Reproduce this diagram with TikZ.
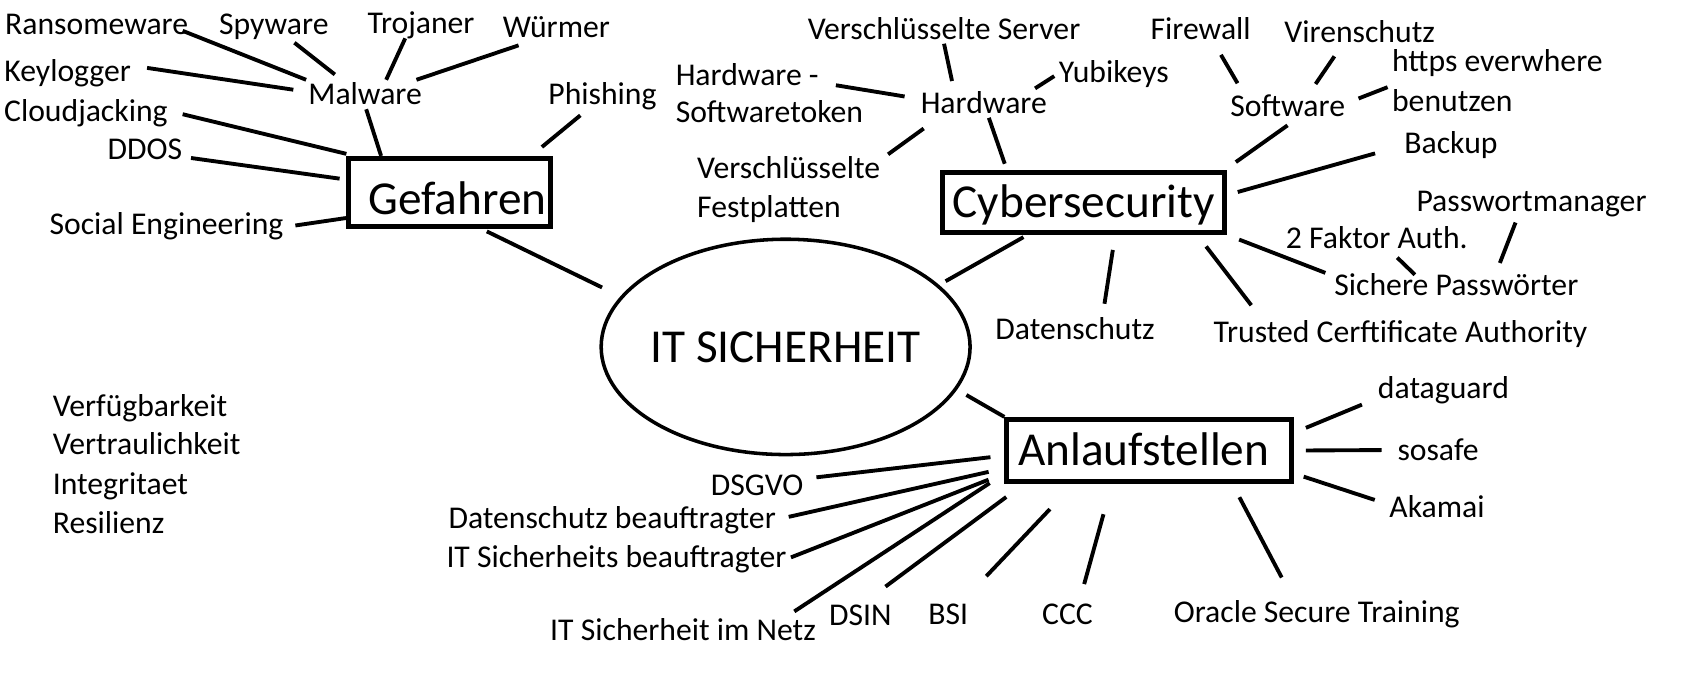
\documentclass[tikz,border=0pt]{standalone}
\usepackage{fontspec}
\setmainfont{Carlito}
\usetikzlibrary{shapes.geometric}
\begin{document}
\begin{tikzpicture}[x=1pt,y=-1pt,
  lbl/.style={font=\fontsize{29.5}{35}\selectfont, inner sep=4pt, text height=19pt, text depth=0pt},
  big/.style={draw, line width=4.7pt, font=\fontsize{44}{50}\selectfont, inner sep=0pt, text height=28.3pt, text depth=0pt},
  ln/.style={line width=3.6pt},
]
\useasboundingbox[fill=white] (0,0) rectangle (1568,631);

% central ellipse
\node[ellipse, draw, line width=3.3pt, minimum width=343.5pt, minimum height=200.5pt, inner sep=0pt,
  font=\fontsize{44}{50}\selectfont, text height=28.3pt, text depth=0pt] (it) at (731.5,323) {\makebox[0pt]{IT SICHERHEIT}};

% main boxes
\node[big, minimum width=188pt, minimum height=63pt, text height=41.3pt] (gef) at (418.5,179) {\hspace*{15pt}Gefahren};
\node[big, minimum width=263pt, minimum height=56pt] (cyber) at (1009,188.5) {Cybersecurity};
\node[big, minimum width=265pt, minimum height=58pt] (anl) at (1070,419.5) {Anlaufstellen\hspace*{10pt}};

% Gefahren cluster
\node[lbl] (ransom) at (90,23) {Ransomeware};
\node[lbl] (spy) at (255,23) {Spyware};
\node[lbl] (troj) at (392,22) {Trojaner};
\node[lbl] (wurm) at (518,25) {Würmer};
\node[lbl] (keylog) at (63,66) {Keylogger};
\node[lbl] (malware) at (340,88) {Malware};
\node[lbl] (cloud) at (80,104) {Cloudjacking};
\node[lbl] (ddos) at (135,139) {DDOS};
\node[lbl] (phish) at (561,88) {Phishing};
\node[lbl] (social) at (155,209) {Social Engineering};

% Hardware cluster
\node[lbl] (vserver) at (879,27) {Verschlüsselte Server};
\node[lbl, anchor=west] (hwsw) at (625,70) {Hardware -};
\node[lbl, anchor=west] (hwsw2) at (625,105) {Softwaretoken};
\node[lbl] (hardware) at (916,96) {Hardware};
\node[lbl] (yubi) at (1037,67) {Yubikeys};
\node[lbl, anchor=west] (vfest) at (645,157) {Verschlüsselte};
\node[lbl, anchor=west] (vfest2) at (645,193) {Festplatten};

% Software / Cybersecurity cluster
\node[lbl] (firewall) at (1118,27) {Firewall};
\node[lbl] (viren) at (1266,30) {Virenschutz};
\node[lbl, anchor=west] (https) at (1292,57) {https everwhere};
\node[lbl, anchor=west] (benutzen) at (1292,94) {benutzen};
\node[lbl] (software) at (1199,99) {Software};
\node[lbl] (backup) at (1351,133) {Backup};
\node[lbl] (pwman) at (1426,187) {Passwortmanager};
\node[lbl] (faktor) at (1282,222) {2 Faktor Auth.};
\node[lbl] (sicher) at (1356,266) {Sichere Passwörter};
\node[lbl] (trusted) at (1304,309) {Trusted Cerftificate Authority};
\node[lbl] (datensch) at (1001,307) {Datenschutz};

% Anlaufstellen cluster
\node[lbl] (dataguard) at (1344,362) {dataguard};
\node[lbl] (sosafe) at (1339,419) {sosafe};
\node[lbl] (akamai) at (1338,472) {Akamai};
\node[lbl] (dsgvo) at (705,452) {DSGVO};
\node[lbl] (dsbeauf) at (570,483) {Datenschutz beauftragter};
\node[lbl] (itsbeauf) at (574,519) {IT Sicherheits beauftragter};
\node[lbl] (itnetz) at (636,587) {IT Sicherheit im Netz};
\node[lbl] (dsin) at (801,573) {DSIN};
\node[lbl] (bsi) at (883,572) {BSI};
\node[lbl] (ccc) at (994,572) {CCC};
\node[lbl] (oracle) at (1226,570) {Oracle Secure Training};

% CIA list
\node[lbl, anchor=west] (verf) at (45,378) {Verfügbarkeit};
\node[lbl, anchor=west] (vertr) at (45,414) {Vertraulichkeit};
\node[lbl, anchor=west] (integ) at (45,451) {Integritaet};
\node[lbl, anchor=west] (resil) at (45,487) {Resilienz};

% connectors: Gefahren
\draw[ln, shorten <=-10pt] (ransom.-6) -- (malware.166);
\draw[ln, shorten <=5pt, shorten >=8pt] (spy.-42) -- (malware.148);
\draw[ln] (troj.-137) -- (malware.35.5);
\draw[ln, shorten <=11pt] (wurm.-151.5) -- (malware.16);
\draw[ln, shorten <=11pt, shorten >=10pt] (keylog.4) -- (malware.177.4);
\draw[ln] (malware.-86) -- (gef.152);
\draw[ln, shorten <=10pt, shorten >=8pt] (cloud.east) -- (gef.159.5);
\draw[ln, shorten <=4pt, shorten >=6pt] (ddos.-11.8) -- (gef.173.9);
\draw[ln, shorten <=7pt] (social.-1.9) -- (gef.-166.2);
\draw[ln, shorten <=9pt, shorten >=13pt] (phish.-135) -- (gef.24);
\draw[ln, shorten <=6pt, shorten >=19pt] (gef.-49.3) -- (it.163);

% connectors: Hardware
\draw[ln, shorten >=7pt] (vserver.south) -- (hardware.154.6);
\draw[ln, shorten <=12pt, shorten >=11pt] (hwsw.-6.9) -- (hardware.176.9);
\draw[ln] (yubi.-176.9) -- (hardware.16.5);
\draw[ln, shorten <=17pt, shorten >=4pt] (hardware.-162.2) -- (vfest.7.2);
\draw[ln, shorten >=6pt] (hardware.-71.6) -- (cyber.157);
\draw[ln, shorten <=4pt, shorten >=7pt] (cyber.-150) -- (it.22.7);

% connectors: Software / Cybersecurity
\draw[ln, shorten <=12pt, shorten >=9pt] (firewall.-47.7) -- (software.162);
\draw[ln, shorten <=10.6pt, shorten >=8.6pt] (viren.-142.4) -- (software.33);
\draw[ln, shorten >=9pt] (benutzen.168.6) -- (software.4.3);
\draw[ln, shorten <=7pt, shorten >=12.5pt] (software.-68.2) -- (cyber.13.6);
\draw[ln, shorten <=24pt, shorten >=10pt] (backup.-176) -- (cyber.3.4);
\draw[ln, shorten <=11.7pt, shorten >=4.5pt] (cyber.south east) -- (sicher.175.4);
\draw[ln, shorten <=6pt, shorten >=-5pt] (faktor.-43) -- (sicher.162.4);
\draw[ln, shorten <=7pt, shorten >=8pt] (pwman.-132.6) -- (sicher.20);
\draw[ln, shorten <=13.4pt, shorten >=14pt] (cyber.-16.9) -- (trusted.174.5);
\draw[ln, shorten <=14pt, shorten >=10.6pt] (cyber.-46.2) -- (datensch.28);

% connectors: Anlaufstellen
\draw[ln, shorten <=10pt] (it.-14.4) -- (anl.north west);
\draw[ln, shorten <=12pt, shorten >=11.6pt] (anl.7.9) -- (dataguard.-171);
\draw[ln, shorten <=11pt, shorten >=10.5pt] (anl.east) -- (sosafe.west);
\draw[ln, shorten <=9.5pt, shorten >=10pt] (anl.-9.4) -- (akamai.176);
\draw[ln, shorten <=13.7pt, shorten >=21pt] (anl.-22.7) -- (oracle.149.6);
\draw[ln, shorten <=29pt, shorten >=15pt] (anl.-138.2) -- (ccc.50.8);
\draw[ln, shorten <=32pt, shorten >=30pt] (anl.-156.1) -- (bsi.43.6);
\draw[ln, shorten <=20pt, shorten >=22pt] (anl.-165.3) -- (dsin.67);
\draw[ln, shorten <=16.3pt, shorten >=7.3pt] (anl.-171.2) -- (itnetz.8);
\draw[ln, shorten <=13pt, shorten >=8pt] (anl.-178.9) -- (dsgvo.8.3);
\draw[ln, shorten <=15pt, shorten >=8pt] (anl.-173.6) -- (dsbeauf.east);
\draw[ln, shorten <=15.8pt] (anl.-171.9) -- (itsbeauf.east);
\end{tikzpicture}
\end{document}
